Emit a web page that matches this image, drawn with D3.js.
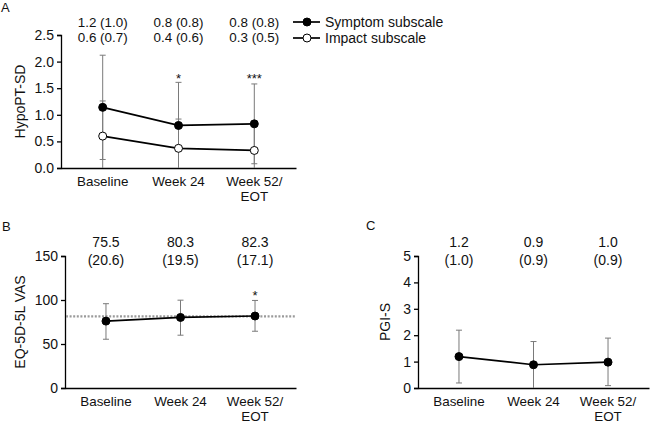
<!DOCTYPE html>
<html>
<head>
<meta charset="utf-8">
<script src="https://cdn.jsdelivr.net/npm/d3@7"></script>
<style>
  html, body { margin: 0; padding: 0; background: #fff; }
  svg { display: block; font-family: "Liberation Sans", Arial, sans-serif; }
</style>
</head>
<body>
<svg id="chart" width="650" height="422"></svg>
<script>
// ---------- Data ----------
const categories = ["Baseline", "Week 24", "Week 52/EOT"];
const categoryLabelLines = [["Baseline"], ["Week 24"], ["Week 52/", "EOT"]];

// Panel A: HypoPT-SD
const hypoTicks = [0, 0.5, 1.0, 1.5, 2.0, 2.5];
const symptomMean = [1.14, 0.80, 0.83];
const symptomUpper = [2.12, 1.61, 1.58];
const symptomLower = [0.16, 0.0, 0.08];
const impactMean = [0.60, 0.37, 0.33];
const impactUpper = [1.26, 0.92, 0.83];
const impactLower = [0.0, 0.0, 0.0];
const symptomLabels = ["1.2 (1.0)", "0.8 (0.8)", "0.8 (0.8)"];
const impactLabels = ["0.6 (0.7)", "0.4 (0.6)", "0.3 (0.5)"];
const hypoSignif = ["", "*", "***"];
const legendLabels = ["Symptom subscale", "Impact subscale"];

// Panel B: EQ-5D-5L VAS
const eqTicks = [0, 50, 100, 150];
const eqMean = [76.0, 80.2, 81.8];
const eqUpper = [95.8, 99.8, 99.5];
const eqLower = [55.4, 60.0, 64.5];
const eqReference = 81.4;
const eqLabels1 = ["75.5", "80.3", "82.3"];
const eqLabels2 = ["(20.6)", "(19.5)", "(17.1)"];
const eqSignif = ["", "", "*"];

// Panel C: PGI-S
const pgiTicks = [0, 1, 2, 3, 4, 5];
const pgiMean = [1.19, 0.88, 0.98];
const pgiUpper = [2.19, 1.76, 1.89];
const pgiLower = [0.19, 0.0, 0.09];
const pgiLabels1 = ["1.2", "0.9", "1.0"];
const pgiLabels2 = ["(1.0)", "(0.9)", "(0.9)"];

// ---------- Drawing ----------
const svg = d3.select("#chart");
svg.append("rect").attr("width", 650).attr("height", 422).attr("fill", "#fff");

const FS = 14;
const XFS = 13.4;
const errColor = "#7a7a7a";

function drawPanel(cfg) {
  const g = svg.append("g");
  const x = d3.scalePoint().domain(categories).range([cfg.x0, cfg.x1]).padding(0.55);
  const y = d3.scaleLinear().domain([cfg.ticks[0], cfg.ticks[cfg.ticks.length - 1]]).range([cfg.y0, cfg.y1]);

  // y axis
  const ya = g.append("g").attr("transform", `translate(${cfg.x0},0)`)
    .call(d3.axisLeft(y).tickValues(cfg.ticks).tickSize(4).tickPadding(3).tickFormat(cfg.fmt));
  ya.select(".domain").attr("stroke", "#000").attr("stroke-width", 1.3);
  ya.selectAll(".tick line").attr("stroke", "#000").attr("stroke-width", 1.3);
  ya.selectAll(".tick text").attr("font-size", FS).attr("fill", "#111")
    .attr("font-family", "Liberation Sans, Arial, sans-serif");

  // x axis
  const xa = g.append("g").attr("transform", `translate(0,${cfg.y0})`)
    .call(d3.axisBottom(x).tickSize(0).tickFormat(""));
  xa.select(".domain").attr("stroke", "#000").attr("stroke-width", 1.3);
  categories.forEach((c, i) => {
    categoryLabelLines[i].forEach((ln, j) => {
      g.append("text").attr("x", x(c)).attr("y", cfg.y0 + 17.5 + j * 15)
        .attr("text-anchor", "middle").attr("font-size", XFS).attr("fill", "#111").text(ln);
    });
  });

  // y label
  g.append("text")
    .attr("transform", `translate(${cfg.ylabX},${(cfg.y0 + cfg.y1) / 2}) rotate(-90)`)
    .attr("text-anchor", "middle").attr("dy", "0.35em")
    .attr("font-size", FS).attr("fill", "#111").text(cfg.ylabel);

  // panel letter
  g.append("text").attr("x", cfg.letterX).attr("y", cfg.letterY)
    .attr("font-size", 13).attr("fill", "#111").text(cfg.letter);

  // reference line
  if (cfg.ref !== undefined) {
    g.append("line").attr("x1", cfg.x0 + 1).attr("x2", cfg.x1 - 1)
      .attr("y1", y(cfg.ref)).attr("y2", y(cfg.ref))
      .attr("stroke", "#9a9a9a").attr("stroke-width", 2.4).attr("stroke-dasharray", "2,1.6");
  }

  // error bars
  cfg.series.forEach(s => {
    categories.forEach((c, i) => {
      const cx = x(c);
      g.append("line").attr("x1", cx).attr("x2", cx)
        .attr("y1", y(s.lower[i])).attr("y2", y(s.upper[i]))
        .attr("stroke", errColor).attr("stroke-width", 1);
      [s.upper[i], s.lower[i]].forEach(v => {
        if (v > cfg.ticks[0]) {
          g.append("line").attr("x1", cx - 3).attr("x2", cx + 3)
            .attr("y1", y(v)).attr("y2", y(v))
            .attr("stroke", errColor).attr("stroke-width", 1);
        }
      });
    });
  });

  // lines and markers
  cfg.series.forEach(s => {
    const pts = categories.map((c, i) => [x(c), y(s.mean[i])]);
    g.append("path").attr("d", d3.line()(pts)).attr("fill", "none")
      .attr("stroke", "#000").attr("stroke-width", 1.7);
  });
  cfg.series.forEach(s => {
    categories.forEach((c, i) => {
      g.append("circle").attr("cx", x(c)).attr("cy", y(s.mean[i])).attr("r", 4)
        .attr("fill", s.open ? "#fff" : "#000").attr("stroke", "#000").attr("stroke-width", 1);
    });
  });

  // significance marks
  if (cfg.signif) {
    categories.forEach((c, i) => {
      if (cfg.signif[i]) {
        g.append("text").attr("x", x(c)).attr("y", cfg.signifY).attr("text-anchor", "middle")
          .attr("font-size", 13).attr("fill", "#111").text(cfg.signif[i]);
      }
    });
  }

  // value labels above
  cfg.valueRows.forEach((row, r) => {
    categories.forEach((c, i) => {
      g.append("text").attr("x", x(c)).attr("y", cfg.valueY[r]).attr("text-anchor", "middle")
        .attr("font-size", cfg.valueFS || FS).attr("fill", "#111").text(row[i]);
    });
  });
  return { g, x, y };
}

// Panel A
drawPanel({
  x0: 61, x1: 296, y0: 168, y1: 35, ticks: hypoTicks, fmt: d3.format(".1f"),
  ylabel: "HypoPT-SD", ylabX: 20, letter: "A", letterX: 1, letterY: 12,
  series: [
    { mean: symptomMean, upper: symptomUpper, lower: symptomLower, open: false },
    { mean: impactMean, upper: impactUpper, lower: impactLower, open: true }
  ],
  signif: hypoSignif, signifY: 83,
  valueRows: [symptomLabels, impactLabels], valueY: [26.5, 41.5], valueFS: 13.4
});

// Legend for panel A
legendLabels.forEach((lab, i) => {
  const ly = 22 + i * 16;
  svg.append("line").attr("x1", 293).attr("x2", 320).attr("y1", ly).attr("y2", ly)
    .attr("stroke", "#000").attr("stroke-width", 1.7);
  svg.append("circle").attr("cx", 307).attr("cy", ly).attr("r", 4)
    .attr("fill", i === 0 ? "#000" : "#fff").attr("stroke", "#000").attr("stroke-width", 1);
  svg.append("text").attr("x", 325).attr("y", ly).attr("dy", "0.35em")
    .attr("font-size", FS).attr("fill", "#111").text(lab);
});

// Panel B
drawPanel({
  x0: 65, x1: 296, y0: 388, y1: 256, ticks: eqTicks, fmt: d3.format("d"),
  ylabel: "EQ-5D-5L VAS", ylabX: 20, letter: "B", letterX: 2, letterY: 231,
  series: [{ mean: eqMean, upper: eqUpper, lower: eqLower, open: false }],
  ref: eqReference,
  signif: eqSignif, signifY: 300,
  valueRows: [eqLabels1, eqLabels2], valueY: [247, 265]
});

// Panel C
drawPanel({
  x0: 418, x1: 649, y0: 388, y1: 256, ticks: pgiTicks, fmt: d3.format("d"),
  ylabel: "PGI-S", ylabX: 385, letter: "C", letterX: 366, letterY: 230,
  series: [{ mean: pgiMean, upper: pgiUpper, lower: pgiLower, open: false }],
  valueRows: [pgiLabels1, pgiLabels2], valueY: [247, 265]
});
</script>
</body>
</html>
